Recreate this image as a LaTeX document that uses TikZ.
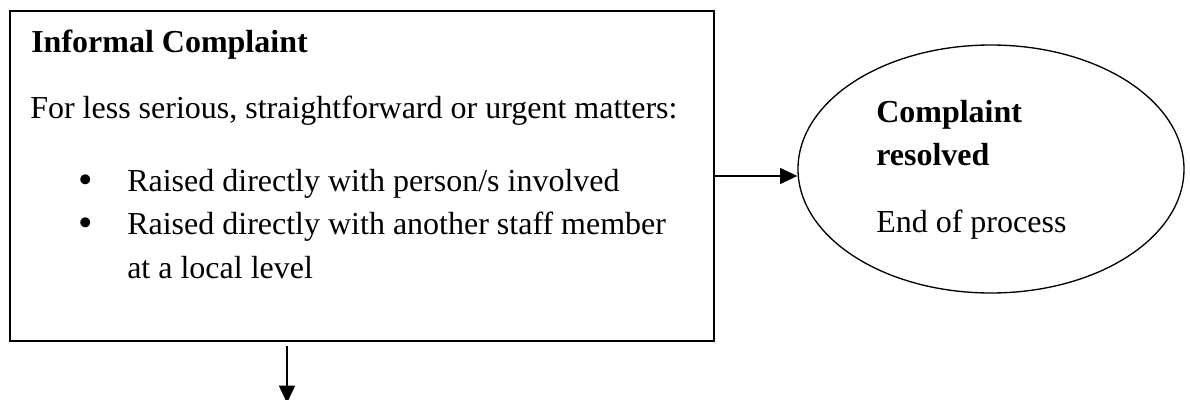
\documentclass[tikz,border=0pt]{standalone}
\usepackage{fontspec}
\setmainfont{Liberation Serif}
\usepackage{tikz}
\usetikzlibrary{arrows.meta}
\usetikzlibrary{shapes.geometric}
\usetikzlibrary{positioning}
\usetikzlibrary{calc}

\begin{document}
\begin{tikzpicture}[x=0.75pt,y=0.75pt,yscale=-1,xscale=1,
  txt/.style={anchor=base west, inner sep=0pt, font=\fontsize{24}{28}\selectfont},
  dot/.style={anchor=base west, inner sep=0pt, font=\fontsize{31}{34}\selectfont},
  arr/.style={line width=1.2pt, -{Triangle[length=13pt,width=12pt]}}]
\useasboundingbox (0,0) rectangle (1190,400);

%Shape: Rectangle
\node (box) [draw, line width=1.3pt, rectangle, inner sep=0pt, minimum width=528pt, minimum height=247.5pt] at (362,176) {};
%Shape: Ellipse
\node (ell) [draw, line width=1pt, ellipse, inner sep=0pt, minimum width=289.5pt, minimum height=186pt] at (991,169) {};

% Text Node
\node (title) [txt] at (31,52) {\textbf{Informal Complaint}};
% Text Node
\node (lead) [txt] at (30,118) {For less serious, straightforward or urgent matters:};
% Text Node
\node (dot1) [dot] at (78,193) {\textbullet};
\node (item1) [txt] at (127,191) {Raised directly with person/s involved};
% Text Node
\node (dot2) [dot] at (78,236) {\textbullet};
\node (item2) [txt] at (127,234) {Raised directly with another staff member};
\node (item3) [txt] at (127,278) {at a local level};

% Text Node
\node (resA) [txt] at (876,122) {\textbf{Complaint}};
\node (resB) [txt] at (876,165) {\textbf{resolved}};
% Text Node
\node (endp) [txt] at (876,232) {End of process};

%Straight Lines
\draw [arr] (box.east) -- (box.east -| ell.west);
%Straight Lines
\coordinate (exit) at (287,403);
\draw [arr] ($(box.south -| exit)+(0,4)$) -- (exit);

\end{tikzpicture}
\end{document}
